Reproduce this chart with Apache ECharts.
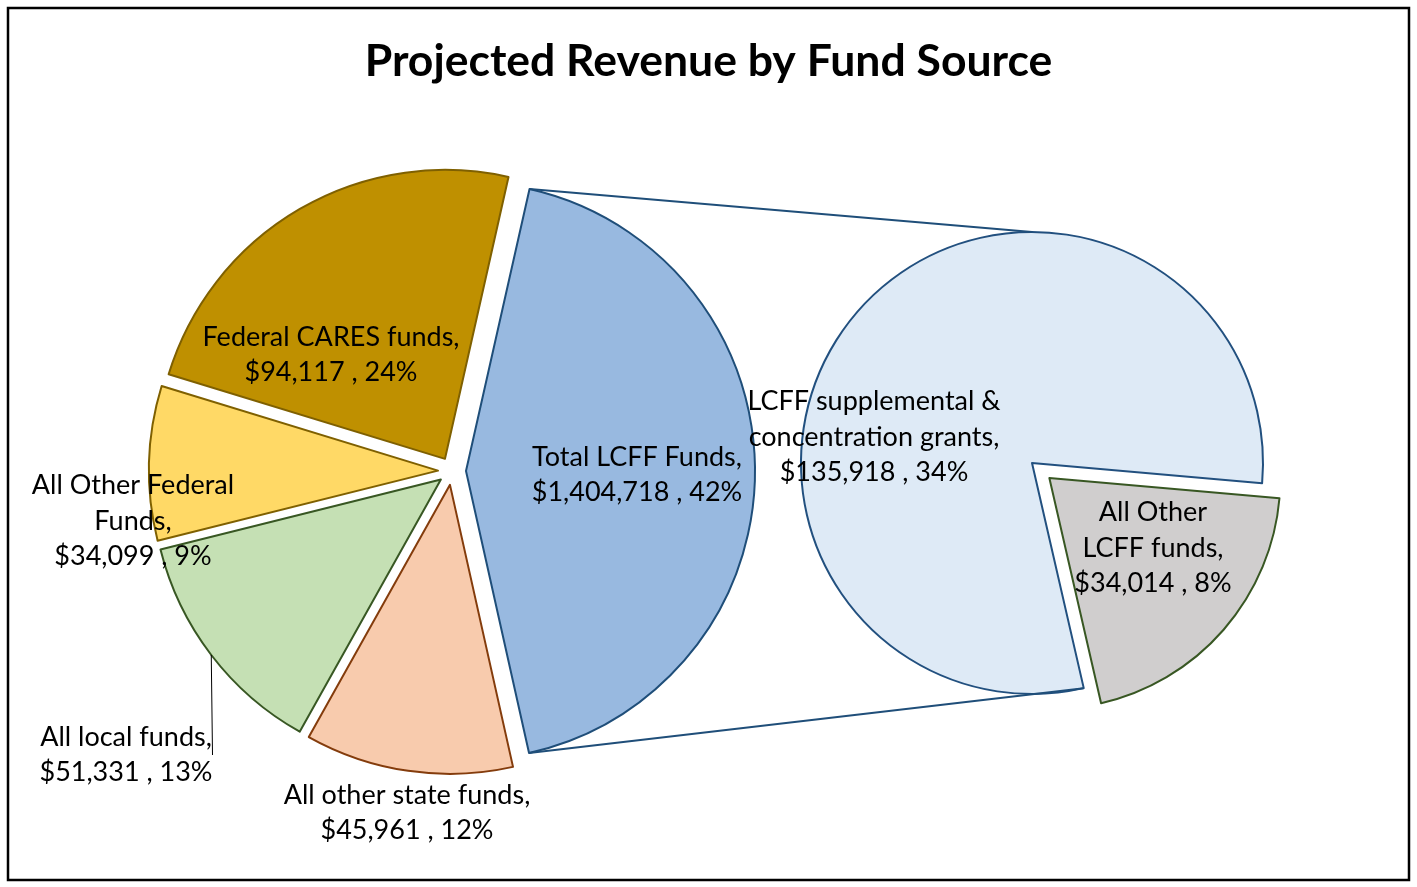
<!DOCTYPE html>
<html>
<head>
<meta charset="utf-8">
<title>Projected Revenue by Fund Source</title>
<script src="https://cdn.jsdelivr.net/npm/echarts@6/dist/echarts.min.js"></script>
<style>
html, body { margin: 0; padding: 0; background: #fff; }
#chart { width: 1417px; height: 887px; }
</style>
</head>
<body>
<div id="chart"></div>
<script>
// left pie, the slices other than LCFF
const fundNames = ['All other state funds', 'All local funds', 'All Other Federal\nFunds', 'Federal CARES funds'];
const fundValues = [45961, 51331, 34099, 94117];
const fundPct = [12, 13, 9, 24];

// LCFF slice, broken out in the right pie
const lcffName = 'Total LCFF Funds';
const lcffPrinted = 1404718;   // amount printed on the label
const lcffPct = 42;
const lcffNames = ['All Other\nLCFF funds', 'LCFF supplemental &\nconcentration grants'];
const lcffValues = [34014, 135918];
const lcffPcts = [8, 34];

// geometry of the two pies (px / degrees)
const L = { cx: 452, cy: 471, r: 289, off: 14, start: 77.3 };
const R = { cx: 1032, cy: 463, r: 231, off: 23, start: -5 };

const leftFill = ['#98B9E0', '#F8CBAD', '#C5E0B4', '#FFD966', '#BF9000'];
const leftEdge = ['#1F4E79', '#843C0C', '#385723', '#7F6000', '#7F6000'];
const rightFill = ['#D0CECE', '#DEEAF6'];
const rightEdge = ['#385723', '#22507F'];

const leftLabelPos = [[637, 475], [407, 813], [126, 755], [133, 521], [331, 355]];
const rightLabelPos = [[1153, 548], [874, 437]];

const FONT = 'Lato, "Open Sans", sans-serif';
const fmt = n => n.toLocaleString('en-US');

const lcffSum = lcffValues.reduce((a, b) => a + b, 0);
const leftValues = [lcffSum].concat(fundValues);
const leftNames = [lcffName].concat(fundNames);
const leftPrinted = [lcffPrinted].concat(fundValues);
const leftPct = [lcffPct].concat(fundPct);

const leftData = leftValues.map((v, i) => ({
  name: leftNames[i], value: v, selected: true,
  itemStyle: { color: leftFill[i], borderColor: leftEdge[i], borderWidth: 2 }
}));
const rightData = lcffValues.map((v, i) => ({
  name: lcffNames[i], value: v, selected: i === 0,
  itemStyle: { color: rightFill[i], borderColor: rightEdge[i], borderWidth: 2 }
}));

// label carriers: same slices, not exploded, invisible (labels of selected slices ignore labelLayout)
const leftLabelData = leftValues.map((v, i) => {
  const d = { name: leftNames[i], value: v };
  if (leftNames[i] === 'All local funds') {
    d.label = { position: 'outside' };
    d.labelLine = { show: true, length: 30, length2: 0, lineStyle: { color: '#000', width: 1 } };
  }
  return d;
});
const rightLabelData = lcffValues.map((v, i) => ({ name: lcffNames[i], value: v }));

// series lines from the LCFF slice corners to the second pie
const total = leftValues.reduce((a, b) => a + b, 0);
const rad = a => a * Math.PI / 180;
const span = 360 * lcffSum / total;
const mid = L.start - span / 2;
const ox = L.cx + L.off * Math.cos(rad(mid)), oy = L.cy - L.off * Math.sin(rad(mid));
const pTop = [ox + L.r * Math.cos(rad(L.start)), oy - L.r * Math.sin(rad(L.start))];
const pBot = [ox + L.r * Math.cos(rad(L.start - span)), oy - L.r * Math.sin(rad(L.start - span))];
const grayEnd = R.start - 360 * lcffValues[0] / lcffSum;
const qTop = [R.cx, R.cy - R.r];
const qBot = [R.cx + R.r * Math.cos(rad(grayEnd)), R.cy - R.r * Math.sin(rad(grayEnd))];

const labelStyle = {
  show: true, position: 'inside', color: '#000',
  fontFamily: FONT, fontSize: 27, lineHeight: 35.5
};

const pieBase = (c, r, start) => ({
  type: 'pie', center: c, radius: [0, r], startAngle: start, clockwise: true,
  avoidLabelOverlap: false, emphasis: { scale: false }
});

const chart = echarts.init(document.getElementById('chart'));
chart.setOption({
  animation: false,
  backgroundColor: '#fff',
  title: {
    text: 'Projected Revenue by Fund Source',
    left: 'center', top: 34,
    textStyle: { fontFamily: FONT, fontSize: 44.5, fontWeight: 'bold', color: '#000' }
  },
  graphic: [
    { type: 'rect', shape: { x: 8, y: 8, width: 1401, height: 872 },
      style: { fill: 'none', stroke: '#000', lineWidth: 2.5 }, z: 0 },
    { type: 'line', shape: { x1: pTop[0], y1: pTop[1], x2: qTop[0], y2: qTop[1] },
      style: { stroke: '#1F4E79', lineWidth: 2 }, z: 10 },
    { type: 'line', shape: { x1: pBot[0], y1: pBot[1], x2: qBot[0], y2: qBot[1] },
      style: { stroke: '#1F4E79', lineWidth: 2 }, z: 10 }
  ],
  series: [
    Object.assign(pieBase([L.cx, L.cy], L.r, L.start), {
      selectedMode: 'multiple', selectedOffset: L.off,
      label: { show: false }, labelLine: { show: false },
      data: leftData
    }),
    Object.assign(pieBase([R.cx, R.cy], R.r, R.start), {
      selectedMode: 'multiple', selectedOffset: R.off,
      label: { show: false }, labelLine: { show: false },
      data: rightData
    }),
    Object.assign(pieBase([L.cx, L.cy], L.r + L.off, L.start), {
      silent: true, selectedMode: false, z: 5,
      itemStyle: { color: 'rgba(0,0,0,0)', borderWidth: 0 },
      label: Object.assign({}, labelStyle, {
        formatter: p => p.name + ',\n$' + fmt(leftPrinted[p.dataIndex]) + ' , ' + leftPct[p.dataIndex] + '%'
      }),
      labelLine: { show: false },
      labelLayout: p => ({ x: leftLabelPos[p.dataIndex][0], y: leftLabelPos[p.dataIndex][1], align: 'center', verticalAlign: 'middle' }),
      data: leftLabelData
    }),
    Object.assign(pieBase([R.cx, R.cy], R.r, R.start), {
      silent: true, selectedMode: false, z: 5,
      itemStyle: { color: 'rgba(0,0,0,0)', borderWidth: 0 },
      label: Object.assign({}, labelStyle, {
        formatter: p => p.name + ',\n$' + fmt(p.value) + ' , ' + lcffPcts[p.dataIndex] + '%'
      }),
      labelLine: { show: false },
      labelLayout: p => ({ x: rightLabelPos[p.dataIndex][0], y: rightLabelPos[p.dataIndex][1], align: 'center', verticalAlign: 'middle' }),
      data: rightLabelData
    })
  ]
});
</script>
</body>
</html>
